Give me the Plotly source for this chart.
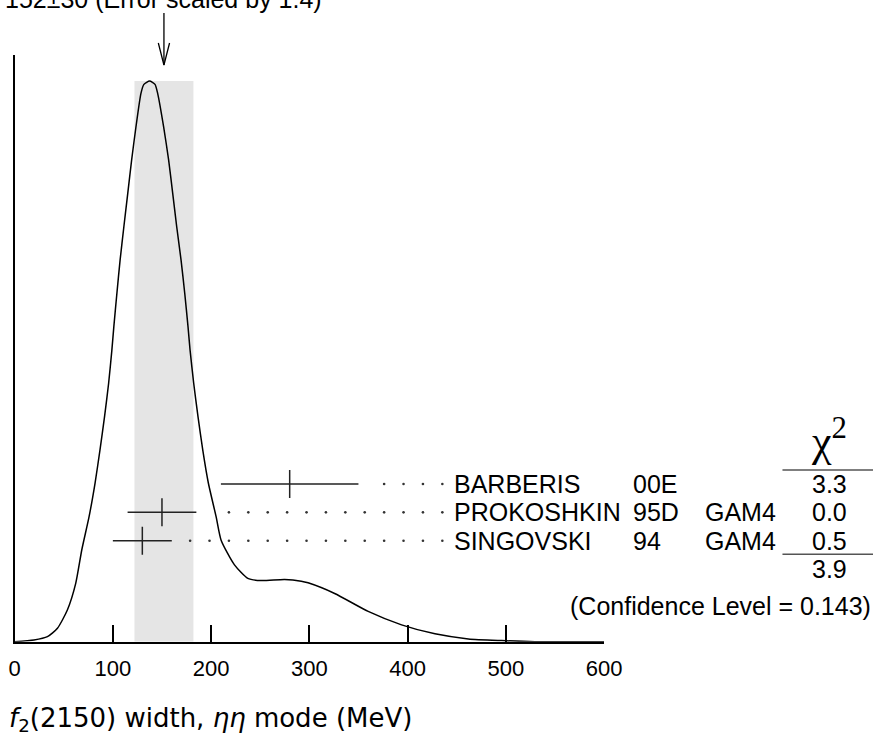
import numpy as np
import plotly.graph_objects as go

# ---------------- data ----------------
# ideogram curve (MeV, relative height)
curve_x = [0, 19.7, 33.4, 43.6, 53.8, 62.2, 68.4, 75.8, 81.9, 86.9, 91.5, 95.7, 99.0,
           101.0, 104.1, 107.4, 111.2, 115.2, 119.1, 123.5, 128.6, 131.6, 137.4, 142.9,
           145.6, 151.7, 156.8, 160.9, 165.0, 169.4, 173.2, 176.5, 178.6, 182.3, 186.7,
           191.5, 197.2, 205.1, 210.2, 223.8, 237.4, 251.0, 274.8, 291.8, 298.7, 325.8,
           359.9, 393.9, 427.9, 461.9, 495.9, 529.6, 600]
curve_y = [0, 0.003, 0.009, 0.024, 0.057, 0.104, 0.164, 0.223, 0.283, 0.342, 0.401, 0.461, 0.520,
           0.562, 0.621, 0.681, 0.740, 0.800, 0.859, 0.918, 0.978, 0.994, 1.0, 0.994,
           0.978, 0.918, 0.859, 0.800, 0.740, 0.681, 0.621, 0.562, 0.520, 0.461, 0.401,
           0.342, 0.283, 0.223, 0.181, 0.137, 0.113, 0.109, 0.111, 0.108, 0.105, 0.086,
           0.054, 0.030, 0.014, 0.005, 0.002, 0.0, 0.0]

authors = ["BARBERIS", "PROKOSHKIN", "SINGOVSKI"]
years = ["00E", "95D", "94"]
techs = ["", "GAM4", "GAM4"]
values = [280, 150, 130]
errors = [70, 35, 30]
chi2 = ["3.3", "0.0", "0.5"]
chi2_total = "3.9"
conf_level = "(Confidence Level = 0.143)"

avg_value = 152
avg_error = 30
avg_text = "152±30 (Error scaled by 1.4)"

x_ticks = [0, 100, 200, 300, 400, 500, 600]
x_title = "<i>f</i><sub>2</sub>(2150) width, <i>ηη</i> mode (MeV)"

# ---------------- layout helpers ----------------
W, H = 900, 739
# observed horizontal mapping of the page into the picture
SX, OX = 0.971, 5.4
X0PX, X1PX = 14, 602          # target pixel of 0 and 600
YBOT, YTOP = 641.7, 55.0      # pixel of axis bottom / top
PEAKPX = 81.0
ROW0, ROWSTEP = 484.0, 28.35  # pixel of first row, row spacing


def px(xp):
    return ((xp - OX) / SX) / W


def py(yp):
    return 1 - yp / H


def row(yp):
    return (yp - ROW0) / ROWSTEP


ymax = (YBOT - YTOP) / (YBOT - PEAKPX)
r_bot = row(YBOT)
r_top = row(YTOP)

FONT = "Liberation Sans"
fig = go.Figure()

# ideogram curve
fig.add_trace(go.Scatter(x=curve_x, y=curve_y, mode="lines",
                         line=dict(color="black", width=1.5, shape="spline", smoothing=0.6),
                         hoverinfo="skip", showlegend=False))

rows = list(range(len(authors)))

# dotted leaders
for i, (v, e) in enumerate(zip(values, errors)):
    grid = np.arange(435.4, v + e + 15, -19.75)
    fig.add_trace(go.Scatter(x=grid, y=[i] * len(grid), yaxis="y2", mode="markers",
                             marker=dict(size=2.6, color="#333"),
                             hoverinfo="skip", showlegend=False))

# measurements with error bars
fig.add_trace(go.Scatter(x=values, y=rows, yaxis="y2", mode="markers",
                         marker=dict(symbol="line-ns", size=20,
                                     line=dict(width=1.5, color="#222")),
                         error_x=dict(type="data", array=errors, symmetric=True,
                                      width=0, thickness=1.5, color="#222"),
                         hoverinfo="skip", showlegend=False))

shapes = []
# shaded band of the average
shapes.append(dict(type="rect", xref="x", yref="y", x0=avg_value - avg_error,
                   x1=avg_value + avg_error, y0=0, y1=1.0, fillcolor="#e5e5e5",
                   line=dict(width=0), layer="below"))
# arrow
shapes.append(dict(type="line", xref="x", yref="paper", x0=avg_value, x1=avg_value,
                   y0=py(13), y1=py(65), line=dict(color="black", width=1.3)))
hw = 5.6 * 600 / (X1PX - X0PX)
shapes.append(dict(type="path", xref="x", yref="paper",
                   path=f"M {avg_value - hw},{py(43)} L {avg_value},{py(65)} L {avg_value + hw},{py(43)}",
                   line=dict(color="black", width=1.3)))
# chi2 rules
for r in [row(470.0), row(554.3)]:
    shapes.append(dict(type="line", xref="paper", yref="y2", x0=px(780), x1=px(872),
                       y0=r, y1=r, line=dict(color="#555", width=1.5)))

ann = []
lab_font = dict(family=FONT, size=25, color="black")
for i in rows:
    ann.append(dict(xref="paper", yref="y2", x=px(450), y=i, text=authors[i],
                    xanchor="left", yanchor="middle", showarrow=False, font=lab_font))
    ann.append(dict(xref="paper", yref="y2", x=px(629), y=i, text=years[i],
                    xanchor="left", yanchor="middle", showarrow=False, font=lab_font))
    if techs[i]:
        ann.append(dict(xref="paper", yref="y2", x=px(701), y=i, text=techs[i],
                        xanchor="left", yanchor="middle", showarrow=False, font=lab_font))
    ann.append(dict(xref="paper", yref="y2", x=px(846), y=i, text=chi2[i],
                    xanchor="right", yanchor="middle", showarrow=False, font=lab_font))

ann.append(dict(xref="paper", yref="y2", x=px(846), y=row(569), text=chi2_total,
                xanchor="right", yanchor="middle", showarrow=False, font=lab_font))
ann.append(dict(xref="paper", yref="y2", x=px(870), y=row(606), text=conf_level,
                xanchor="right", yanchor="middle", showarrow=False, font=lab_font))
ann.append(dict(xref="paper", yref="y2", x=px(826), y=row(438),
                text="χ<sup>2</sup>", xanchor="center", yanchor="middle", showarrow=False,
                font=dict(family="Liberation Serif", size=44, color="black")))
ann.append(dict(xref="x", yref="paper", x=avg_value, y=py(-1), text=avg_text,
                xanchor="center", yanchor="middle", showarrow=False, font=lab_font))
ann.append(dict(xref="paper", yref="paper", x=px(6), y=py(719), text=x_title,
                xanchor="left", yanchor="middle", showarrow=False,
                font=dict(family="DejaVu Sans", size=26, color="black")))

fig.update_layout(
    width=W, height=H,
    margin=dict(l=0, r=0, t=0, b=0),
    paper_bgcolor="white", plot_bgcolor="white",
    xaxis=dict(domain=[px(X0PX), px(X1PX)], range=[0, 600], tickvals=x_ticks,
               ticks="inside", ticklen=17, tickwidth=1.5, tickcolor="black",
               ticklabelstandoff=6,
               showline=True, linewidth=1.5, linecolor="black", showgrid=False,
               zeroline=False, tickfont=dict(family=FONT, size=22, color="black")),
    yaxis=dict(domain=[py(YBOT), py(YTOP)], range=[0, ymax], showline=True,
               linewidth=1.5, linecolor="black", showticklabels=False, ticks="",
               showgrid=False, zeroline=False),
    yaxis2=dict(domain=[py(YBOT), py(YTOP)], overlaying="y", range=[r_bot, r_top],
                visible=False),
    shapes=shapes, annotations=ann,
)

fig.write_html("out.html", config={"displayModeBar": False},
               post_script="document.body.style.margin='0';document.body.style.overflow='hidden';")
